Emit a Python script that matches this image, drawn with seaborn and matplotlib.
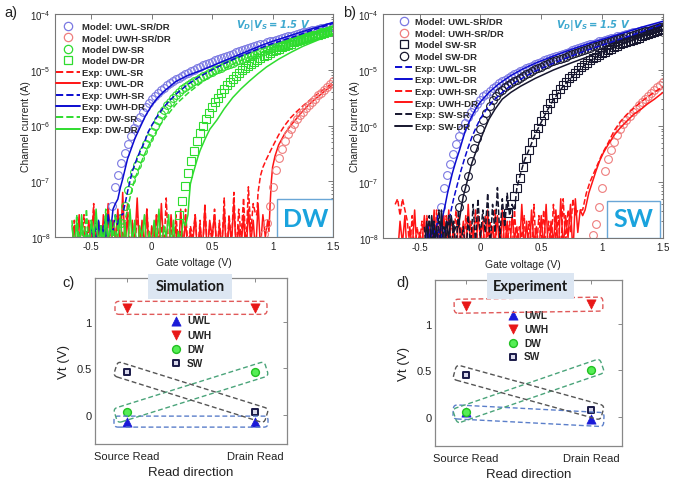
import numpy as np
import matplotlib
matplotlib.use('Agg')
import matplotlib.pyplot as plt
import matplotlib.ticker as mticker
import matplotlib.transforms as mtransforms
from matplotlib.patches import FancyBboxPatch, Rectangle
from matplotlib.lines import Line2D
from matplotlib.mathtext import MathTextParser
import seaborn as sns

sns.set_style('white')
plt.rcParams['font.family'] = ['Liberation Sans', 'DejaVu Sans']
plt.rcParams['mathtext.default'] = 'regular'

# ---------------- data: I-V curves (log10 of current in A) ----------------
gate_ticks = [-0.5, 0, 0.5, 1, 1.5]
gate_tick_labels = ['-0.5', '0', '0.5', '1', '1.5']
NOISE_STEP = 0.02
MODEL_STEP = 0.025

# model curves (start voltage, log10 current values at MODEL_STEP spacing)
uwl_model_start = -0.325
uwl_model = [-7.45, -7.10, -6.88, -6.68, -6.50, -6.33, -6.18, -6.05, -5.94, -5.84,
             -5.75, -5.67, -5.60, -5.53, -5.47, -5.42, -5.37, -5.32, -5.28, -5.24,
             -5.20, -5.17, -5.14, -5.11, -5.08, -5.05, -5.02, -5.00, -4.97, -4.95,
             -4.92, -4.90, -4.88, -4.86, -4.83, -4.81, -4.79, -4.77, -4.75, -4.73,
             -4.71, -4.69, -4.67, -4.65, -4.63, -4.61, -4.59, -4.58, -4.56, -4.54,
             -4.53, -4.51, -4.49, -4.48, -4.46, -4.45, -4.43, -4.42, -4.40, -4.39,
             -4.37, -4.36, -4.34, -4.33, -4.32, -4.30, -4.29, -4.28, -4.27, -4.26,
             -4.25, -4.24, -4.23, -4.22]
uwh_model_start = 0.925
uwh_model = [-7.95, -7.75, -7.45, -7.10, -6.80, -6.59, -6.42, -6.28, -6.16, -6.06,
             -5.97, -5.89, -5.82, -5.75, -5.69, -5.63, -5.57, -5.52, -5.46, -5.41,
             -5.36, -5.31, -5.26, -5.21]
dw_sr_model_start = -0.25
dw_sr_model = [-7.75, -7.45, -7.15, -6.98, -6.83, -6.70, -6.58, -6.45, -6.33, -6.22,
               -6.11, -6.00, -5.90, -5.80, -5.72, -5.64, -5.57, -5.51, -5.45, -5.40,
               -5.35, -5.31, -5.27, -5.24, -5.21, -5.18, -5.15, -5.12, -5.09, -5.06,
               -5.04, -5.01, -4.99, -4.96, -4.94, -4.91, -4.89, -4.87, -4.85, -4.83,
               -4.81, -4.79, -4.77, -4.75, -4.73, -4.71, -4.69, -4.67, -4.65, -4.63,
               -4.61, -4.59, -4.58, -4.56, -4.54, -4.52, -4.50, -4.49, -4.47, -4.45,
               -4.43, -4.42, -4.40, -4.38, -4.37, -4.35, -4.33, -4.32, -4.30, -4.29,
               -4.27]
dw_dr_model_start = 0.225
dw_dr_model = [-7.60, -7.35, -7.08, -6.85, -6.64, -6.45, -6.28, -6.13, -6.00, -5.88,
               -5.77, -5.67, -5.58, -5.50, -5.42, -5.35, -5.28, -5.22, -5.16, -5.11,
               -5.06, -5.01, -4.97, -4.93, -4.89, -4.86, -4.82, -4.79, -4.76, -4.73,
               -4.70, -4.67, -4.65, -4.62, -4.60, -4.57, -4.55, -4.53, -4.51, -4.49,
               -4.47, -4.45, -4.43, -4.42, -4.40, -4.38, -4.37, -4.35, -4.34, -4.32,
               -4.31, -4.29]
sw_sr_model_start = 0.225
sw_sr_model = [-7.55, -7.40, -7.25, -7.10, -6.92, -6.74, -6.57, -6.42, -6.28, -6.15,
               -6.03, -5.91, -5.80, -5.69, -5.59, -5.50, -5.42, -5.34, -5.27, -5.21,
               -5.15, -5.10, -5.05, -5.00, -4.95, -4.91, -4.87, -4.83, -4.79, -4.76,
               -4.73, -4.70, -4.67, -4.64, -4.62, -4.59, -4.57, -4.54, -4.52, -4.50,
               -4.48, -4.46, -4.44, -4.42, -4.40, -4.38, -4.36, -4.34, -4.32, -4.30,
               -4.28, -4.27]
sw_dr_model_start = -0.175
sw_dr_model = [-7.45, -7.28, -7.10, -6.90, -6.62, -6.40, -6.22, -6.05, -5.90, -5.76,
               -5.64, -5.54, -5.46, -5.40, -5.35, -5.31, -5.27, -5.23, -5.20, -5.17,
               -5.14, -5.11, -5.08, -5.05, -5.02, -4.99, -4.96, -4.94, -4.91, -4.89,
               -4.86, -4.84, -4.82, -4.80, -4.78, -4.76, -4.74, -4.72, -4.70, -4.68,
               -4.66, -4.64, -4.62, -4.60, -4.58, -4.57, -4.55, -4.53, -4.52, -4.50,
               -4.48, -4.47, -4.45, -4.43, -4.42, -4.40, -4.39, -4.37, -4.36, -4.34,
               -4.33, -4.31, -4.30, -4.28, -4.27, -4.25, -4.24, -4.23]

# --- panel a experimental traces: noise floor (start, values) + turn-on (x, y)
a_red_dr_noise_start = -0.66
a_red_dr_noise = [-8.3, -7.8, -8.2, -7.6, -8.4, -7.9, -8.1, -7.7, -8.3, -7.5,
                  -8.2, -7.8, -8.4, -7.6, -8.0, -7.4, -8.3, -7.7, -8.1, -7.5,
                  -8.3, -7.2, -8.2, -7.6, -8.4, -7.8, -8.1, -7.3, -8.3, -7.7,
                  -8.2, -7.5, -8.4, -7.8, -8.0, -7.6, -8.3, -7.4, -8.2, -7.9,
                  -8.3, -7.6, -8.1, -7.8, -8.4, -7.5, -8.2, -7.7, -8.3, -7.9,
                  -8.1, -7.6, -8.4, -7.8, -8.2, -7.5, -8.3, -7.7, -8.0, -7.6,
                  -8.3, -7.8, -8.2, -7.5, -8.4, -7.7, -8.1, -7.4, -8.3, -7.8,
                  -8.2, -7.6, -8.4, -7.5, -8.1, -7.7, -8.3, -7.4, -8.2, -7.6,
                  -8.0, -7.7]
a_red_dr_x = [0.97, 0.98, 0.99, 1.0, 1.02, 1.05, 1.1, 1.15, 1.2, 1.25, 1.3, 1.35, 1.4, 1.45, 1.5]
a_red_dr_y = [-7.9, -7.4, -7.0, -6.75, -6.55, -6.35, -6.15, -6.0, -5.87, -5.74, -5.63, -5.53, -5.44, -5.35, -5.27]

a_red_sr_noise_start = -0.66
a_red_sr_noise = [-8.2, -7.7, -8.4, -7.9, -8.1, -7.6, -8.3, -7.8, -8.2, -7.4,
                  -8.4, -7.7, -8.1, -7.9, -8.3, -7.5, -8.2, -7.8, -8.0, -7.6,
                  -8.3, -7.9, -8.1, -7.4, -8.4, -7.7, -8.2, -7.6, -8.0, -7.8,
                  -8.3, -7.5, -8.2, -7.9, -8.4, -7.6, -8.1, -7.8, -8.3, -7.3,
                  -8.2, -7.7, -8.4, -7.6, -8.1, -7.9, -8.3, -7.5, -8.2, -7.8,
                  -8.0, -7.6, -8.3, -7.7, -8.4, -7.4, -8.2, -7.8, -8.1, -7.5,
                  -8.3, -7.7, -8.2, -7.3, -8.4, -7.6, -8.1, -7.2, -8.3, -7.5,
                  -8.0, -7.3, -8.2, -7.1, -7.9, -7.4, -7.6]
a_red_sr_x = [0.87, 0.88, 0.90, 0.92, 0.95, 1.0, 1.05, 1.1, 1.15, 1.2, 1.25, 1.3, 1.35, 1.4, 1.45, 1.5]
a_red_sr_y = [-7.6, -7.2, -6.9, -6.75, -6.6, -6.38, -6.17, -6.0, -5.86, -5.75, -5.65, -5.56, -5.47, -5.39, -5.31, -5.23]

a_blue_dr_noise_start = -0.50
a_blue_dr_noise = [-8.2, -7.9, -8.1, -7.7, -8.3, -7.8, -8.0, -7.6, -7.9, -7.5, -7.4]
a_blue_dr_x = [-0.28, -0.26, -0.24, -0.22, -0.20, -0.17, -0.14, -0.10, -0.05, 0.0, 0.05, 0.1, 0.2,
               0.3, 0.4, 0.5, 0.6, 0.7, 0.8, 0.9, 1.0, 1.1, 1.2, 1.3, 1.4, 1.5]
a_blue_dr_y = [-7.32, -7.12, -6.96, -6.78, -6.60, -6.42, -6.24, -6.05, -5.82, -5.64, -5.50, -5.39, -5.21,
               -5.10, -5.02, -4.93, -4.84, -4.75, -4.66, -4.57, -4.49, -4.42, -4.35, -4.28, -4.22, -4.15]

a_blue_sr_noise_start = -0.56
a_blue_sr_noise = [-8.3, -7.9, -8.2, -7.8, -8.1, -7.7, -8.3, -7.8, -8.0, -7.6, -8.2, -7.7, -7.9, -7.6, -7.8, -7.6]
a_blue_sr_x = [-0.24, -0.22, -0.20, -0.18, -0.16, -0.13, -0.10, -0.06, -0.03, 0.0, 0.05, 0.1, 0.15, 0.21,
               0.3, 0.4, 0.5, 0.6, 0.7, 0.8, 0.9, 1.0, 1.1, 1.2, 1.3, 1.4, 1.5]
a_blue_sr_y = [-7.6, -7.4, -7.19, -7.0, -6.82, -6.64, -6.48, -6.30, -6.12, -6.0, -5.82, -5.67, -5.55, -5.42,
               -5.26, -5.12, -5.00, -4.89, -4.79, -4.70, -4.61, -4.53, -4.46, -4.39, -4.31, -4.24, -4.17]

a_green_sr_noise_start = -0.66
a_green_sr_noise = [-7.7, -8.3, -7.6, -8.1, -7.8, -8.4, -7.5, -8.2, -7.7, -8.0, -7.6,
                    -8.3, -7.8, -8.1, -7.5, -8.2, -7.7, -8.0, -7.6, -7.9, -7.7, -7.8]
a_green_sr_x = [-0.22, -0.20, -0.18, -0.16, -0.14, -0.10, -0.07, -0.03, 0.0, 0.04, 0.08, 0.12, 0.2,
                0.3, 0.4, 0.5, 0.6, 0.7, 0.8, 0.9, 1.0, 1.1, 1.2, 1.3, 1.4, 1.5]
a_green_sr_y = [-7.7, -7.5, -7.3, -7.12, -6.96, -6.74, -6.57, -6.38, -6.25, -6.1, -5.96, -5.84, -5.62,
                -5.42, -5.25, -5.10, -4.98, -4.87, -4.78, -4.69, -4.61, -4.54, -4.47, -4.40, -4.33, -4.27]

a_green_dr_noise_start = -0.66
a_green_dr_noise = [-7.8, -8.2, -7.7, -8.4, -7.6, -8.1, -7.9, -8.3, -7.7, -8.0,
                    -7.5, -8.2, -7.8, -8.4, -7.6, -8.1, -7.7, -8.3, -7.9, -8.0,
                    -7.6, -8.2, -7.8, -8.3, -7.5, -8.1, -7.7, -8.4, -7.8, -8.0,
                    -7.6, -8.3, -7.9, -8.2, -7.7, -8.1, -7.5, -8.3, -7.8, -8.0,
                    -7.6, -8.2, -7.7, -8.4, -7.9, -8.1, -7.7, -7.8]
a_green_dr_x = [0.30, 0.31, 0.32, 0.34, 0.36, 0.38, 0.40, 0.44, 0.48, 0.54, 0.60, 0.67, 0.74, 0.81,
                0.88, 0.95, 1.05, 1.15, 1.25, 1.35, 1.45, 1.5]
a_green_dr_y = [-7.6, -7.3, -7.05, -6.88, -6.73, -6.58, -6.45, -6.25, -6.07, -5.90, -5.70, -5.50, -5.34,
                -5.20, -5.07, -4.95, -4.81, -4.69, -4.58, -4.49, -4.40, -4.36]

# --- panel b experimental traces
b_red_dr_noise_start = -0.68
b_red_dr_noise = [-8.3, -7.7, -8.1, -7.6, -8.4, -7.8, -8.2, -7.5, -8.3, -7.9,
                  -8.1, -7.6, -8.4, -7.7, -8.2, -7.5, -8.3, -7.8, -8.0, -7.6,
                  -8.3, -7.5, -8.2, -7.8, -8.4, -7.6, -8.1, -7.7, -8.3, -7.4,
                  -8.2, -7.8, -8.4, -7.6, -8.0, -7.7, -8.3, -7.5, -8.2, -7.8,
                  -8.1, -7.6, -8.4, -7.5, -8.2, -7.7, -8.3, -7.6, -8.0, -7.8,
                  -8.3, -7.4, -8.2, -7.7, -8.4, -7.5, -8.1, -7.8, -8.3, -7.6,
                  -8.2, -7.4, -8.4, -7.7, -8.1, -7.5, -8.3, -7.3, -8.2, -7.6,
                  -8.0, -7.4, -8.3, -7.3, -7.9, -7.5, -7.6]
b_red_dr_x = [0.86, 0.89, 0.92, 0.95, 0.98, 1.01, 1.05, 1.1, 1.15, 1.2, 1.26, 1.32, 1.37, 1.43, 1.5]
b_red_dr_y = [-7.5, -7.2, -7.0, -6.8, -6.62, -6.48, -6.33, -6.16, -6.03, -5.92, -5.79, -5.70, -5.61, -5.52, -5.40]

b_red_sr_noise_start = -0.70
b_red_sr_noise = [-7.4, -7.3, -7.6, -7.3, -7.5, -7.7, -8.2, -7.6, -8.3, -7.8,
                  -8.1, -7.7, -8.4, -7.6, -8.2, -7.9, -8.3, -7.5, -8.1, -7.8,
                  -8.4, -7.6, -8.2, -7.7, -8.0, -7.5, -8.3, -7.8, -8.2, -7.6,
                  -8.4, -7.7, -8.1, -7.5, -8.3, -7.8, -8.2, -7.6, -8.0, -7.7,
                  -8.3, -7.5, -8.4, -7.8, -8.2, -7.6, -8.1, -7.7, -8.3, -7.5,
                  -8.2, -7.8, -8.0, -7.6, -8.4, -7.7, -8.2, -7.4, -8.3, -7.6,
                  -8.1, -7.5, -8.3, -7.7, -8.2, -7.4, -8.0, -7.6, -8.3, -7.3,
                  -8.1, -7.5, -7.9, -7.3, -7.6, -7.5]
b_red_sr_x = [0.84, 0.87, 0.90, 0.93, 0.96, 1.0, 1.05, 1.1, 1.15, 1.2, 1.26, 1.32, 1.38, 1.44, 1.5]
b_red_sr_y = [-7.5, -7.2, -7.0, -6.85, -6.7, -6.5, -6.3, -6.08, -5.92, -5.80, -5.68, -5.57, -5.47, -5.38, -5.30]

b_blue_dr_noise_start = -0.45
b_blue_dr_noise = [-8.2, -7.8, -8.1, -7.7, -8.0, -7.9]
b_blue_dr_x = [-0.33, -0.31, -0.29, -0.27, -0.25, -0.23, -0.20, -0.17, -0.14, -0.12, -0.08, -0.04, 0.0,
               0.07, 0.15, 0.25, 0.35, 0.45, 0.6, 0.75, 0.9, 1.05, 1.2, 1.35, 1.5]
b_blue_dr_y = [-7.9, -7.62, -7.42, -7.2, -7.02, -6.84, -6.62, -6.42, -6.2, -6.06, -5.87, -5.7, -5.57,
               -5.40, -5.25, -5.10, -4.98, -4.88, -4.75, -4.63, -4.52, -4.42, -4.32, -4.22, -4.13]

b_blue_sr_noise_start = -0.45
b_blue_sr_noise = [-8.1, -7.8, -8.3, -7.7, -8.0, -7.6, -8.2, -7.8, -7.9, -7.7]
b_blue_sr_x = [-0.25, -0.22, -0.19, -0.16, -0.13, -0.10, -0.07, -0.03, 0.0, 0.05, 0.1, 0.2, 0.3, 0.45,
               0.6, 0.75, 0.9, 1.05, 1.2, 1.35, 1.5]
b_blue_sr_y = [-7.6, -7.3, -7.05, -6.8, -6.58, -6.38, -6.2, -6.0, -5.87, -5.7, -5.56, -5.36, -5.2, -5.02,
               -4.88, -4.75, -4.63, -4.52, -4.41, -4.3, -4.18]

b_black_dr_noise_start = -0.46
b_black_dr_noise = [-8.2, -7.7, -8.3, -7.6, -8.1, -7.8, -8.4, -7.5, -8.2, -7.7, -8.0, -7.6, -7.9, -7.8]
b_black_dr_x = [-0.18, -0.16, -0.14, -0.11, -0.09, -0.07, -0.04, -0.01, 0.03, 0.07, 0.12, 0.18, 0.25,
                0.33, 0.45, 0.6, 0.75, 0.9, 1.05, 1.2, 1.35, 1.5]
b_black_dr_y = [-7.8, -7.5, -7.25, -7.0, -6.83, -6.66, -6.48, -6.3, -6.08, -5.88, -5.70, -5.52, -5.40,
                -5.29, -5.15, -5.00, -4.87, -4.75, -4.63, -4.51, -4.39, -4.27]

b_black_sr_noise_start = -0.46
b_black_sr_noise = [-7.8, -8.3, -7.6, -8.1, -7.7, -8.4, -7.5, -8.2, -7.8, -8.0,
                    -7.6, -8.3, -7.7, -8.2, -7.5, -8.1, -7.8, -8.4, -7.6, -8.2,
                    -7.4, -8.1, -7.3, -8.0, -7.5, -7.9, -7.2, -8.2, -7.4, -7.9,
                    -7.1, -8.0, -7.3, -7.8, -7.2, -7.6, -7.4]
b_black_sr_x = [0.28, 0.30, 0.33, 0.36, 0.40, 0.45, 0.50, 0.55, 0.60, 0.67, 0.74, 0.81, 0.88, 0.95,
                1.05, 1.15, 1.25, 1.35, 1.5]
b_black_sr_y = [-7.5, -7.1, -6.85, -6.62, -6.42, -6.15, -5.93, -5.72, -5.53, -5.32, -5.15, -5.00, -4.87,
                -4.77, -4.65, -4.55, -4.46, -4.38, -4.28]

# ---------------- data: threshold voltages ----------------
read_labels = ['Source Read', 'Drain Read']
read_pos = [1, 2]
sim_uwl = [-0.07, -0.07]
sim_uwh = [1.15, 1.15]
sim_dw = [0.03, 0.46]
sim_sw = [0.46, 0.03]
exp_uwl = [0.05, -0.02]
exp_uwh = [1.19, 1.21]
exp_dw = [0.05, 0.51]
exp_sw = [0.45, 0.08]

# ---------------- styling ----------------
C_UWL_M = '#7a78e2'
C_UWH_M = '#ee7d7d'
C_GREEN = '#2fdc2f'
C_BLUE = '#0b0bd0'
C_RED = '#ff1414'
C_BLACK = '#16162e'
C_VTXT = '#3fa9cf'

W, H = 691, 485
fig = plt.figure(figsize=(W / 100, H / 100), dpi=100)


def px_axes(l, r, t, b):
    return fig.add_axes([l / W, (H - b) / H, (r - l) / W, (b - t) / H])


def style_iv(ax):
    ax.set_yscale('log')
    ax.set_xlim(-0.8, 1.5)
    ax.set_ylim(1e-8, 1e-4)
    ax.set_xticks(gate_ticks)
    ax.set_xticklabels(gate_tick_labels)
    ax.xaxis.set_minor_locator(mticker.NullLocator())
    ax.yaxis.set_major_locator(mticker.LogLocator(base=10, numticks=10))
    ax.yaxis.set_minor_locator(mticker.LogLocator(base=10, subs=np.arange(2, 10), numticks=20))
    ax.yaxis.set_minor_formatter(mticker.NullFormatter())
    ax.tick_params(which='both', direction='in', top=True, right=True, color='#666666',
                   labelcolor='#222222', labelsize=7, width=0.6, pad=3)
    ax.tick_params(which='major', length=3.5)
    ax.tick_params(which='minor', length=1.8)
    for s in ax.spines.values():
        s.set_color('#777777')
        s.set_linewidth(0.8)
    ax.set_xlabel('Gate voltage (V)', fontsize=7.5, color='#222222')
    ax.set_ylabel('Channel current (A)', fontsize=7.5, color='#222222')
    ax.grid(False)


def exp_line(ax, nstart, noise, rx, ry, color, ls):
    x = np.concatenate([nstart + NOISE_STEP * np.arange(len(noise)), np.asarray(rx, float)])
    y = 10 ** np.concatenate([np.asarray(noise, float), np.asarray(ry, float)])
    sns.lineplot(x=x, y=y, ax=ax, color=color, linestyle=ls, linewidth=1.1,
                 sort=False, estimator=None)


def model(ax, start, vals, marker, color, ms=5.6):
    x = start + MODEL_STEP * np.arange(len(vals))
    ax.plot(x, 10 ** np.asarray(vals, float), linestyle='none', marker=marker,
            mfc='none', mec=color, ms=ms, mew=0.8)


def mk(marker, color):
    return Line2D([], [], linestyle='none', marker=marker, mfc='none', mec=color, ms=6, mew=0.9)


def ln(color, ls):
    return Line2D([], [], color=color, linestyle=ls, linewidth=1.4)


vtxt = r'$\mathbfit{V_D|V_S = 1.5\ V}$'
try:
    MathTextParser('path').parse(vtxt)
except Exception:
    vtxt = r'$V_D|V_S = 1.5\ V$'

# ---------------- panel a ----------------
ax_a = px_axes(55, 333, 15, 238)
style_iv(ax_a)
exp_line(ax_a, a_red_sr_noise_start, a_red_sr_noise, a_red_sr_x, a_red_sr_y, C_RED, '--')
exp_line(ax_a, a_red_dr_noise_start, a_red_dr_noise, a_red_dr_x, a_red_dr_y, C_RED, '-')
model(ax_a, uwl_model_start, uwl_model, 'o', C_UWL_M)
model(ax_a, uwh_model_start, uwh_model, 'o', C_UWH_M)
model(ax_a, dw_sr_model_start, dw_sr_model, 'o', C_GREEN)
model(ax_a, dw_dr_model_start, dw_dr_model, 's', C_GREEN, ms=5.2)
exp_line(ax_a, a_blue_sr_noise_start, a_blue_sr_noise, a_blue_sr_x, a_blue_sr_y, C_BLUE, '--')
exp_line(ax_a, a_blue_dr_noise_start, a_blue_dr_noise, a_blue_dr_x, a_blue_dr_y, C_BLUE, '-')
exp_line(ax_a, a_green_sr_noise_start, a_green_sr_noise, a_green_sr_x, a_green_sr_y, C_GREEN, '--')
exp_line(ax_a, a_green_dr_noise_start, a_green_dr_noise, a_green_dr_x, a_green_dr_y, C_GREEN, '-')
style_iv(ax_a)

handles_a = [mk('o', C_UWL_M), mk('o', C_UWH_M), mk('o', C_GREEN), mk('s', C_GREEN),
             ln(C_RED, '--'), ln(C_RED, '-'), ln(C_BLUE, '--'), ln(C_BLUE, '-'),
             ln(C_GREEN, '--'), ln(C_GREEN, '-')]
labels_a = ['Model: UWL-SR/DR', 'Model: UWH-SR/DR', 'Model DW-SR', 'Model DW-DR',
            'Exp: UWL-SR', 'Exp: UWL-DR', 'Exp: UWH-SR', 'Exp: UWH-DR', 'Exp: DW-SR', 'Exp: DW-DR']
leg = ax_a.legend(handles_a, labels_a, loc='upper left', bbox_to_anchor=(0.0, 0.968), frameon=False,
                  prop={'size': 6.8, 'weight': 'bold'}, handlelength=2.5, handletextpad=0.3,
                  labelspacing=0.26, borderpad=0.1, borderaxespad=0)
for t in leg.get_texts():
    t.set_color('#2a2a2a')
ax_a.text(0.784, 0.951, vtxt, transform=ax_a.transAxes, ha='center', va='center',
          fontsize=7.2, color=C_VTXT)
ax_a.add_patch(Rectangle((0.8, 0.0), 0.2, 0.17, transform=ax_a.transAxes, fc='white',
                         ec='#6aa6d6', lw=1.0, zorder=20))
ax_a.text(0.9, 0.085, 'DW', transform=ax_a.transAxes, ha='center', va='center', fontsize=18,
          fontweight='bold', family=['Lato', 'DejaVu Sans'], color='#1aa3dd', zorder=21)
ax_a.yaxis.set_label_coords(-0.086, 0.5)
ax_a.xaxis.set_label_coords(0.5, -0.088)

# ---------------- panel b ----------------
ax_b = px_axes(383, 663, 15, 239)
style_iv(ax_b)
model(ax_b, uwl_model_start, uwl_model, 'o', C_UWL_M)
model(ax_b, uwh_model_start, uwh_model, 'o', C_UWH_M)
exp_line(ax_b, b_red_sr_noise_start, b_red_sr_noise, b_red_sr_x, b_red_sr_y, C_RED, '--')
exp_line(ax_b, b_red_dr_noise_start, b_red_dr_noise, b_red_dr_x, b_red_dr_y, C_RED, '-')
model(ax_b, sw_sr_model_start, sw_sr_model, 's', C_BLACK, ms=5.2)
model(ax_b, sw_dr_model_start, sw_dr_model, 'o', C_BLACK)
exp_line(ax_b, b_blue_sr_noise_start, b_blue_sr_noise, b_blue_sr_x, b_blue_sr_y, C_BLUE, '--')
exp_line(ax_b, b_blue_dr_noise_start, b_blue_dr_noise, b_blue_dr_x, b_blue_dr_y, C_BLUE, '-')
exp_line(ax_b, b_black_sr_noise_start, b_black_sr_noise, b_black_sr_x, b_black_sr_y, C_BLACK, '--')
exp_line(ax_b, b_black_dr_noise_start, b_black_dr_noise, b_black_dr_x, b_black_dr_y, C_BLACK, '-')
style_iv(ax_b)

handles_b = [mk('o', C_UWL_M), mk('o', C_UWH_M), mk('s', C_BLACK), mk('o', C_BLACK),
             ln(C_BLUE, '--'), ln(C_BLUE, '-'), ln(C_RED, '--'), ln(C_RED, '-'),
             ln(C_BLACK, '--'), ln(C_BLACK, '-')]
labels_b = ['Model: UWL-SR/DR', 'Model: UWH-SR/DR', 'Model SW-SR', 'Model SW-DR',
            'Exp: UWL-SR', 'Exp: UWL-DR', 'Exp: UWH-SR', 'Exp: UWH-DR', 'Exp: SW-SR', 'Exp: SW-DR']
leg = ax_b.legend(handles_b, labels_b, loc='upper left', bbox_to_anchor=(0.04, 0.99), frameon=False,
                  prop={'size': 6.8, 'weight': 'bold'}, handlelength=1.8, handletextpad=0.3,
                  labelspacing=0.28, borderpad=0.1, borderaxespad=0)
for t in leg.get_texts():
    t.set_color('#2a2a2a')
ax_b.text(0.75, 0.951, vtxt, transform=ax_b.transAxes, ha='center', va='center',
          fontsize=7.2, color=C_VTXT)
ax_b.add_patch(Rectangle((0.80, 0.0), 0.19, 0.167, transform=ax_b.transAxes, fc='white',
                         ec='#6aa6d6', lw=1.0, zorder=20))
ax_b.text(0.895, 0.085, 'SW', transform=ax_b.transAxes, ha='center', va='center', fontsize=18,
          fontweight='bold', family=['Lato', 'DejaVu Sans'], color='#1aa3dd', zorder=21)
ax_b.yaxis.set_label_coords(-0.082, 0.5)
ax_b.xaxis.set_label_coords(0.5, -0.094)


# ---------------- panels c, d ----------------
def style_vt(ax):
    ax.set_xlim(0.75, 2.25)
    ax.set_ylim(-0.31, 1.47)
    ax.set_xticks(read_pos)
    ax.set_xticklabels(read_labels)
    ax.set_yticks([0, 0.5, 1])
    ax.set_yticklabels(['0', '0.5', '1'])
    ax.tick_params(which='both', direction='in', top=True, right=True, color='#777777',
                   labelcolor='#222222', labelsize=8, length=3, width=0.6)
    ax.tick_params(axis='x', pad=5)
    ax.tick_params(axis='y', pad=2.5)
    for s in ax.spines.values():
        s.set_color('#888888')
        s.set_linewidth(0.9)
    ax.set_xlabel('Read direction', fontsize=9.5, color='#222222')
    ax.set_ylabel('Vt (V)', fontsize=9.5, color='#222222')
    ax.grid(False)


def vt_points(ax, uwl, uwh, dw, sw):
    sns.scatterplot(x=read_pos, y=uwl, ax=ax, marker='^', s=44, color='#1a1ad8',
                    edgecolor='#1a1ad8', linewidth=0.5, label='UWL', zorder=5)
    sns.scatterplot(x=read_pos, y=uwh, ax=ax, marker='v', s=44, color='#e81818',
                    edgecolor='#e81818', linewidth=0.5, label='UWH', zorder=5)
    sns.scatterplot(x=read_pos, y=dw, ax=ax, marker='o', s=32, color='#55ee55',
                    edgecolor='#22c022', linewidth=1.0, label='DW', zorder=6)
    sns.scatterplot(x=read_pos, y=sw, ax=ax, marker='s', s=22, color='#d8d8ea',
                    edgecolor='#1a1a48', linewidth=1.4, label='SW', zorder=6)


def pair_box(ax, xs, ys, color, pad=13, half=6.5):
    p0 = ax.transData.transform((xs[0], ys[0]))
    p1 = ax.transData.transform((xs[1], ys[1]))
    dx, dy = p1[0] - p0[0], p1[1] - p0[1]
    L = np.hypot(dx, dy)
    ang = np.degrees(np.arctan2(dy, dx))
    cx, cy = (p0[0] + p1[0]) / 2, (p0[1] + p1[1]) / 2
    box = FancyBboxPatch((cx - L / 2 - pad, cy - half), L + 2 * pad, 2 * half,
                         boxstyle='round,pad=0,rounding_size=4',
                         transform=mtransforms.Affine2D().rotate_deg_around(cx, cy, ang),
                         fill=False, ec=color, lw=1.0, ls=(0, (3.5, 2)), zorder=4)
    fig.add_artist(box)


def title_box(cx, cy, w, h, text):
    fig.add_artist(Rectangle(((cx - w / 2) / W, 1 - (cy + h / 2) / H), w / W, h / H,
                             transform=fig.transFigure, fc='#dce6f2', ec='none', zorder=10))
    fig.text(cx / W, 1 - cy / H, text, ha='center', va='center', fontsize=10.5,
             fontweight='bold', family=['Lato', 'DejaVu Sans'], color='#1a1a1a', zorder=11)


ax_c = px_axes(95, 287, 279, 445)
style_vt(ax_c)
vt_points(ax_c, sim_uwl, sim_uwh, sim_dw, sim_sw)
style_vt(ax_c)
leg = ax_c.legend(loc='upper left', bbox_to_anchor=(0.395, 0.775), frameon=False,
                  prop={'size': 7.3, 'weight': 'bold'}, handlelength=1.0, handletextpad=0.6,
                  labelspacing=0.42, borderpad=0, borderaxespad=0)
ax_c.yaxis.set_label_coords(-0.13, 0.5)
ax_c.xaxis.set_label_coords(0.5, -0.13)

ax_d = px_axes(435, 622, 281, 447)
style_vt(ax_d)
vt_points(ax_d, exp_uwl, exp_uwh, exp_dw, exp_sw)
style_vt(ax_d)
leg = ax_d.legend(loc='upper left', bbox_to_anchor=(0.39, 0.82), frameon=False,
                  prop={'size': 7.3, 'weight': 'bold'}, handlelength=1.0, handletextpad=0.6,
                  labelspacing=0.38, borderpad=0, borderaxespad=0)
ax_d.yaxis.set_label_coords(-0.135, 0.5)
ax_d.xaxis.set_label_coords(0.5, -0.13)

# dashed grouping boxes
pair_box(ax_c, read_pos, sim_uwh, '#e05a5a', pad=12, half=6.5)
pair_box(ax_c, read_pos, sim_uwl, '#5b7fca', pad=13, half=5.5)
pair_box(ax_c, read_pos, sim_dw, '#4aa47a', pad=12, half=7.5)
pair_box(ax_c, read_pos, sim_sw, '#555555', pad=12, half=7.5)
pair_box(ax_d, read_pos, exp_uwh, '#e05a5a', pad=12, half=7)
pair_box(ax_d, read_pos, exp_uwl, '#5b7fca', pad=13, half=7)
pair_box(ax_d, read_pos, exp_dw, '#4aa47a', pad=12, half=7.5)
pair_box(ax_d, read_pos, exp_sw, '#555555', pad=12, half=7.5)

title_box(190, 287, 84, 25, 'Simulation')
title_box(530, 287, 87, 26, 'Experiment')

# panel letters
for txt, x, y in [('a)', 4, 13), ('b)', 343, 13), ('c)', 62, 283), ('d)', 396, 283)]:
    fig.text(x / W, 1 - y / H, txt, ha='left', va='center', fontsize=10.5, color='#222222')

fig.savefig('out.png', dpi=100)
